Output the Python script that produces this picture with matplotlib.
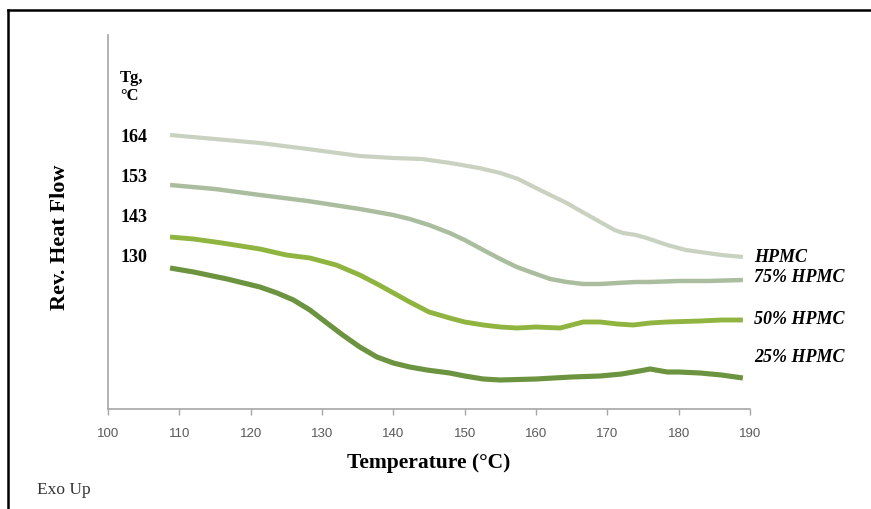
import matplotlib.pyplot as plt
from matplotlib.lines import Line2D

# reversing heat flow traces (arbitrary units), temperature in °C
t_hpmc = [108.7, 115, 121.3, 128, 135.3, 140, 144, 148, 152, 155, 157.5, 160, 162,
          164.3, 166.5, 169, 171, 172.2, 174, 175.5, 178.4, 181, 183, 186, 189]
hf_hpmc = [27.4, 27.0, 26.6, 26.0, 25.3, 25.1, 25.0, 24.6, 24.1, 23.6, 23.0, 22.1, 21.4,
           20.6, 19.7, 18.7, 17.9, 17.6, 17.4, 17.1, 16.4, 15.9, 15.7, 15.4, 15.2]

t_75 = [108.7, 115, 121.3, 128, 135.3, 140, 142.3, 145, 147.9, 150, 152.6, 155, 157.3,
        160, 162, 164.3, 166.6, 169, 171.4, 174, 176, 180, 184, 189]
hf_75 = [22.4, 22.0, 21.4, 20.8, 20.0, 19.4, 19.0, 18.4, 17.6, 16.9, 15.9, 15.0, 14.2,
         13.5, 13.0, 12.7, 12.5, 12.5, 12.6, 12.7, 12.7, 12.8, 12.8, 12.9]

t_50 = [108.7, 112, 116, 121.3, 125, 128.3, 132, 135.3, 138, 142.3, 145, 147.9, 150,
        152.6, 155, 157.3, 160, 163.4, 165, 166.6, 169, 171.4, 173.6, 176, 178.4, 183,
        186, 189]
hf_50 = [17.2, 17.0, 16.6, 16.0, 15.4, 15.1, 14.4, 13.4, 12.4, 10.7, 9.7, 9.1, 8.7,
         8.4, 8.2, 8.1, 8.2, 8.1, 8.4, 8.7, 8.7, 8.5, 8.4, 8.6, 8.7, 8.8, 8.9, 8.9]

t_25 = [108.7, 112, 116.7, 121.3, 123.7, 126, 128.3, 130.5, 132.9, 135.3, 137.7, 140,
        142.3, 144.7, 147.9, 150, 152.6, 155, 160, 165, 169, 172, 174.5, 176, 178.4,
        180, 183, 186, 189]
hf_25 = [14.1, 13.7, 13.0, 12.2, 11.6, 10.9, 9.9, 8.7, 7.4, 6.2, 5.2, 4.6, 4.2, 3.9,
         3.6, 3.3, 3.0, 2.9, 3.0, 3.2, 3.3, 3.5, 3.8, 4.0, 3.7, 3.7, 3.6, 3.4, 3.1]

names = ['HPMC', '75% HPMC', '50% HPMC', '25% HPMC']
label_y = [15.1, 13.1, 8.9, 5.1]
colors = ['#c9d1c0', '#abbd9f', '#8fb43f', '#6c9440']
widths = [3.0, 3.2, 3.5, 3.7]

tg_values = ['164', '153', '143', '130']
tg_y = [27.2, 23.2, 19.1, 15.2]

temp_ticks = list(range(100, 191, 10))

serif = 'Liberation Serif'

fig = plt.figure(figsize=(8.71, 5.09), dpi=100)
ax = fig.add_axes([108 / 871, 100 / 509, 642 / 871, 374 / 509])

curves = [(t_hpmc, hf_hpmc), (t_75, hf_75), (t_50, hf_50), (t_25, hf_25)]
for (t, hf), c, w, name, ly in zip(curves, colors, widths, names, label_y):
    ax.plot(t, hf, color=c, lw=w, solid_capstyle='butt', solid_joinstyle='round')
    ax.text(190.6, ly, name, family=serif, weight='bold', style='italic',
            fontsize=13, va='center', ha='left', clip_on=False)

# Tg column on the left
ax.text(101.7, 32.2, 'Tg,\n°C', family=serif, weight='bold', fontsize=12,
        va='center', ha='left', linespacing=1.1)
for v, y in zip(tg_values, tg_y):
    ax.text(101.7, y, v, family=serif, weight='bold', fontsize=13,
            va='center', ha='left')

ax.set_xlim(100, 190)
ax.set_ylim(0, 37.4)
ax.set_xticks(temp_ticks)
ax.set_yticks([])
ax.tick_params(axis='x', colors='#a6a6a6', length=4, width=1, pad=10,
               labelcolor='#595959', labelsize=9.5)
for lbl in ax.get_xticklabels():
    lbl.set_family('Liberation Sans')
for side in ['top', 'right']:
    ax.spines[side].set_visible(False)
for side in ['left', 'bottom']:
    ax.spines[side].set_color('#a6a6a6')
    ax.spines[side].set_linewidth(1.2)

ax.set_xlabel('Temperature (°C)', family=serif, weight='bold', fontsize=15.5,
              labelpad=9)
fig.text(60 / 871, 1 - 237 / 509, 'Rev. Heat Flow', family=serif, weight='bold',
         fontsize=16, rotation=90, ha='center', va='center')
fig.text(37 / 871, 1 - 490 / 509, 'Exo Up', family=serif, fontsize=12.5,
         ha='left', va='center', color='#333333')

# frame around the figure (left and top edges)
fx = 8 / 871
fy = 1 - 10 / 509
fig.add_artist(Line2D([fx, fx], [0, fy], color='black', lw=1.8))
fig.add_artist(Line2D([fx, 1], [fy, fy], color='black', lw=1.8))

fig.savefig('out.png', dpi=100)
